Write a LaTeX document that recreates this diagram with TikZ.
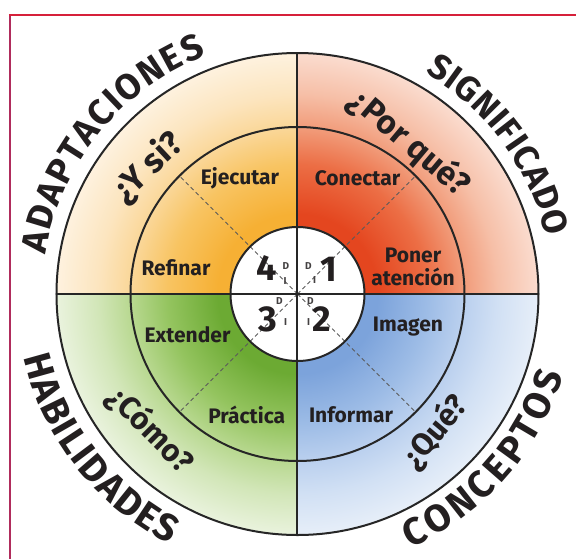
\documentclass[tikz,border=0pt]{standalone}
\usepackage{fontspec}
\setmainfont{Fira Sans}
\usetikzlibrary{decorations.text}

\definecolor{ringline}{HTML}{262626}
\definecolor{guidegray}{HTML}{5A5A5A}
\definecolor{labeltext}{HTML}{231F20}
\definecolor{frametop}{HTML}{D6203A}
\definecolor{frameleft}{HTML}{B02C5C}

% radial fills of the four quadrants (radius 250pt maps to 25bp)
\definecolor{tlA}{HTML}{F6B034}\definecolor{tlB}{HTML}{F8C462}
\definecolor{tlC}{HTML}{FAD696}\definecolor{tlD}{HTML}{FCE5BF}\definecolor{tlE}{HTML}{FEF3E2}
\definecolor{trA}{HTML}{E4461F}\definecolor{trB}{HTML}{EC6E45}
\definecolor{trC}{HTML}{F19A78}\definecolor{trD}{HTML}{F6BFA7}\definecolor{trE}{HTML}{FBDFD3}
\definecolor{blA}{HTML}{6CAA33}\definecolor{blB}{HTML}{94C45F}
\definecolor{blC}{HTML}{B6D78D}\definecolor{blD}{HTML}{D2E6B8}\definecolor{blE}{HTML}{ECF4E1}
\definecolor{brA}{HTML}{7CA3DB}\definecolor{brB}{HTML}{9DBCE6}
\definecolor{brC}{HTML}{B9CFEE}\definecolor{brD}{HTML}{D1E0F4}\definecolor{brE}{HTML}{E9F0F9}
\pgfdeclareradialshading{tlfill}{\pgfpoint{0bp}{0bp}}{color(0bp)=(tlA); color(8bp)=(tlA);
  color(13bp)=(tlB); color(16.5bp)=(tlC); color(20bp)=(tlD); color(24.5bp)=(tlE); color(50bp)=(tlE)}
\pgfdeclareradialshading{trfill}{\pgfpoint{0bp}{0bp}}{color(0bp)=(trA); color(8bp)=(trA);
  color(13bp)=(trB); color(16.5bp)=(trC); color(20bp)=(trD); color(24.5bp)=(trE); color(50bp)=(trE)}
\pgfdeclareradialshading{blfill}{\pgfpoint{0bp}{0bp}}{color(0bp)=(blA); color(8bp)=(blA);
  color(13bp)=(blB); color(16.5bp)=(blC); color(20bp)=(blD); color(24.5bp)=(blE); color(50bp)=(blE)}
\pgfdeclareradialshading{brfill}{\pgfpoint{0bp}{0bp}}{color(0bp)=(brA); color(8bp)=(brA);
  color(13bp)=(brB); color(16.5bp)=(brC); color(20bp)=(brD); color(24.5bp)=(brE); color(50bp)=(brE)}

\begin{document}
\begin{tikzpicture}[x=1pt,y=1pt,
  ring/.style={draw=ringline, line width=2pt},
  guide/.style={draw=guidegray, line width=1pt, dash pattern=on 4pt off 3pt},
  steplabel/.style={font=\bfseries\fontsize{21}{23}\selectfont, text=labeltext, align=center, inner sep=0pt},
  question/.style={font=\bfseries\fontsize{#1}{#1}\selectfont, text=labeltext, inner sep=0pt},
  question/.default=31,
  bignum/.style={font=\bfseries\fontsize{36}{36}\selectfont, text=labeltext, inner sep=0pt},
  smallmark/.style={font=\bfseries\fontsize{10}{10}\selectfont, text=labeltext!85, inner sep=0pt},
  arcword/.style 2 args={decorate, decoration={text along path, text align=fit to path,
      text={|\bfseries\fontsize{#1}{#1}\selectfont\color{labeltext}|#2}}}]

\useasboundingbox (-297.5,-264) rectangle (278.5,294);
\fill[white] (-297.5,-264) rectangle (278.5,294);

% frame
\draw[frameleft, line width=2pt] (-287.5,-270) -- (-287.5,280);
\draw[frametop, line width=2pt] (-288.5,279) -- (285,279);

% shaded quadrants
\begin{scope}
  \clip (0,0) -- (180:241) arc[start angle=180, end angle=90, radius=241] -- cycle;
  \shade[shading=tlfill] (0,0) circle[radius=250];
\end{scope}
\begin{scope}
  \clip (0,0) -- (90:241) arc[start angle=90, end angle=0, radius=241] -- cycle;
  \shade[shading=trfill] (0,0) circle[radius=250];
\end{scope}
\begin{scope}
  \clip (0,0) -- (180:241) arc[start angle=180, end angle=270, radius=241] -- cycle;
  \shade[shading=blfill] (0,0) circle[radius=250];
\end{scope}
\begin{scope}
  \clip (0,0) -- (270:241) arc[start angle=270, end angle=360, radius=241] -- cycle;
  \shade[shading=brfill] (0,0) circle[radius=250];
\end{scope}

% centre disc
\fill[white] (0,0) circle[radius=67];

% dashed diagonals
\coordinate (c) at (0,0);
\foreach \a in {45,135,225,315}
  \draw[guide] (c) -- (\a:167);

% rings and cross
\draw[ring] (c) circle[radius=241];
\draw[ring] (c) circle[radius=167];
\draw[ring] (c) circle[radius=67];
\coordinate (w) at (-241,0);
\coordinate (e) at (241,0);
\coordinate (n) at (0,241);
\coordinate (s) at (0,-241);
\draw[ring] (w) -- (e);
\draw[ring] (n) -- (s);

% middle ring steps
\node[steplabel] (ejecutar) at (-57.5,116) {Ejecutar};
\node[steplabel] (conectar) at (60,116) {Conectar};
\node[steplabel] (refinar) at (-121.5,26) {Refinar};
\node[steplabel] (poner) at (115.5,27) {Poner\\atención};
\node[steplabel] (extender) at (-110,-41) {Extender};
\node[steplabel] (practica) at (-50.8,-121) {Práctica};
\node[steplabel] (imagen) at (110.5,-33) {Imagen};
\node[steplabel] (informar) at (53.5,-121) {Informar};

% centre numbers
\node[bignum] (q4) at (-30.5,26) {4};
\node[bignum] (q1) at (31,25) {1};
\node[bignum] (q3) at (-29.5,-25) {3};
\node[bignum] (q2) at (24.2,-25.5) {2};
\node[smallmark] (d4) at (-11.5,28) {D};
\node[smallmark] (i4) at (-12.5,13) {I};
\node[smallmark] (d1) at (11,28) {D};
\node[smallmark] (i1) at (17,14) {I};
\node[smallmark] (d3) at (-18,-7) {D};
\node[smallmark] (i3) at (-12,-28) {I};
\node[smallmark] (d2) at (13,-7) {D};
\node[smallmark] (i2) at (11,-28) {I};

% questions in the outer ring
\node[question=34, rotate=43] (ysi) at (-149,126.5) {¿Y si?};
\node[question=33, rotate=-40] (porque) at (112,151) {¿Por qué?};
\node[question, rotate=-45] (como) at (-147.5,-136) {¿Cómo?};
\node[question, rotate=50] (que) at (137.5,-138) {¿Qué?};

% words around the outside
\path[arcword={36}{ADAPTACIONES}] (171:255) arc[start angle=171, end angle=111, radius=255];
\path[arcword={35}{SIGNIFICADO}] (60:255) arc[start angle=60, end angle=13, radius=255];
\path[arcword={38}{HABILIDADES}] (193:281) arc[start angle=193, end angle=243, radius=281];
\path[arcword={38}{CONCEPTOS}] (294:278) arc[start angle=294, end angle=343, radius=278];

\end{tikzpicture}
\end{document}
